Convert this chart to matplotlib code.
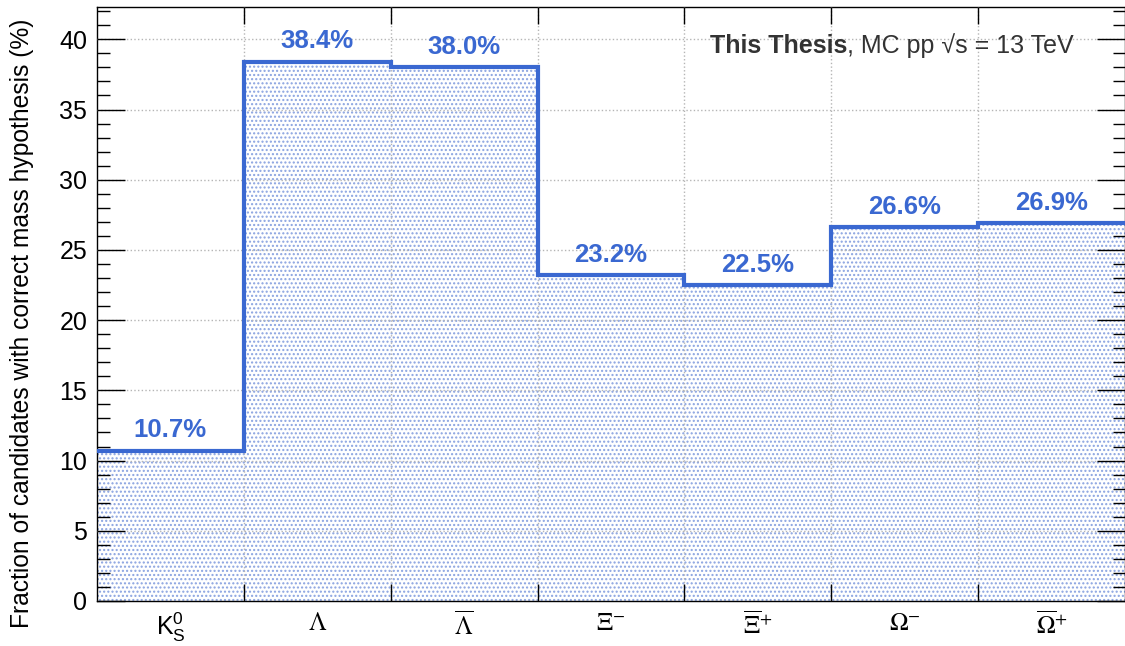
import numpy as np
import matplotlib.pyplot as plt

plt.rcParams['font.family'] = ['Liberation Sans', 'DejaVu Sans']
plt.rcParams['mathtext.fontset'] = 'stix'
plt.rcParams['mathtext.rm'] = 'Liberation Sans'

# data
labels = [r'$\mathrm{K}^{\mathrm{0}}_{\mathrm{S}}$', r'$\Lambda$', r'$\overline{\Lambda}$',
          r'$\Xi^{-}$', r'$\overline{\Xi}^{+}$', r'$\Omega^{-}$', r'$\overline{\Omega}^{+}$']
fractions = [10.7, 38.4, 38.0, 23.2, 22.5, 26.6, 26.9]
fs = 18
blue = '#3a68d1'

edges = np.arange(len(fractions) + 1)
centers = edges[:-1] + 0.5

fig = plt.figure(figsize=(11.25, 6.46), dpi=100)
ax = fig.add_axes([97 / 1125, 1 - 601 / 646, 1 - 97 / 1125, (601 - 7) / 646])

# dotted fill + outline
ax.stairs(fractions, edges, fill=True, facecolor='white', edgecolor='#8aa3e0',
          linewidth=0, hatch='....', zorder=1)
ax.stairs(fractions, edges, baseline=None, color=blue, linewidth=3, zorder=3)

for x, v in zip(centers, fractions):
    ax.text(x, v + 0.6, f'{v:.1f}%', ha='center', va='bottom', color=blue,
            fontsize=fs + 0.5, fontweight='bold', zorder=4)

t1 = ax.text(0.596, 0.935, 'This Thesis', transform=ax.transAxes,
             fontsize=fs, fontweight='bold', color='#333333', ha='left', va='center')
ax.annotate(', MC pp \u221as = 13 TeV', xy=(1, 0.5), xycoords=t1,
            fontsize=fs, color='#333333', ha='left', va='center')

ax.set_xlim(0, len(fractions))
ax.set_ylim(0, 42.3)
ax.set_xticks(edges[1:-1])
ax.set_xticklabels([])
ax.set_xticks(centers, labels=labels, minor=True, fontsize=fs)
ax.get_xticklabels(minor=True)[0].set_math_fontfamily('custom')
ax.tick_params(axis='x', which='minor', length=0, pad=7)
ax.tick_params(axis='x', which='major', direction='in', length=12, width=1, top=True)
ax.set_yticks(np.arange(0, 41, 5))
ax.set_yticks(np.arange(0, 43, 1), minor=True)
ax.tick_params(axis='y', which='major', direction='in', length=20, width=1,
               right=True, labelsize=fs, pad=7)
ax.tick_params(axis='y', which='minor', direction='in', length=9, width=1, right=True)

ax.grid(True, which='major', linestyle=':', color='#b5b5b5', linewidth=1)
ax.set_axisbelow(False)
ax.set_ylabel('Fraction of candidates with correct mass hypothesis (%)', fontsize=fs - 0.3)
ax.yaxis.set_label_coords(-0.061, 0.468)
for s in ax.spines.values():
    s.set_linewidth(1)

fig.savefig('out.png', dpi=100)
